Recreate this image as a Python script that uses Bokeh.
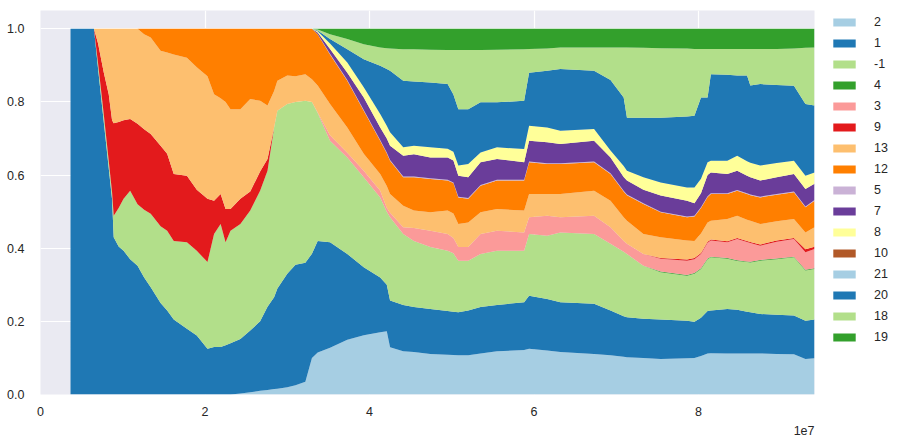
from bokeh.plotting import figure
from bokeh.models import (ColumnDataSource, Legend, LegendItem, FixedTicker,
                          CustomJSTickFormatter, PrintfTickFormatter, Range1d, Title)
from bokeh.embed import file_html
from bokeh.resources import INLINE

# ---------------- data (shares of each category) ----------------
x_vals = [3650000, 6500000, 7000000, 7700000, 8300000, 8700000, 8900000, 9500000, 10100000, 10900000,
          11800000, 12600000, 13400000, 14600000, 15400000, 16200000, 17800000, 19000000, 20300000, 21100000,
          21900000, 22500000, 23100000, 24300000, 25500000, 26700000, 27600000, 28400000, 28800000, 30000000,
          31000000, 32200000, 33000000, 33700000, 35200000, 37300000, 39300000, 41300000, 42100000, 42500000,
          44100000, 45400000, 47400000, 49500000, 50200000, 50800000, 52000000, 53500000, 55500000, 58800000,
          59400000, 61600000, 63200000, 67300000, 69300000, 70900000, 71300000, 73300000, 75400000, 78600000,
          79500000, 80300000, 81100000, 81500000, 83500000, 84700000, 85900000, 86300000, 87500000, 89500000,
          91600000, 93000000, 94100000]

labels = ["2", "1", "-1", "4", "3", "9", "13", "12", "5", "7", "8", "10", "21", "20", "18", "19"]
colors = ["#a6cee3", "#1f78b4", "#b2df8a", "#33a02c", "#fb9a99", "#e31a1c", "#fdbf6f", "#ff7f00",
          "#cab2d6", "#6a3d9a", "#ffff99", "#b15928", "#a6cee3", "#1f78b4", "#b2df8a", "#33a02c"]

s_2 = [0]*23 + [.003, .006, .01, .012, .015, .016, .02, .025, .035, .10, .115, .128, .15, .162, .17, .173,
                .129, .118, .116, .111, .109, .108, .107, .107, .112, .118, .122, .125, .12, .116, .111,
                .107, .103, .102, .10, .097, .099, .10, .105, .112, .113, .112, .112, .112, .112, .112,
                .111, .11, .097, .099]
s_1 = [1.0, 1.0, .891, .744, .618, .534, .43, .405, .393, .37, .352, .32, .293, .25, .23, .205, .18, .161,
       .125, .13, .13, .135, .14, .149, .169, .19, .228, .251, .274, .31, .33, .325, .285, .305, .288,
       .234, .186, .15, .127, .128, .127, .123, .123, .119, .118, .118, .123, .127, .127, .13, .145,
       .141, .136, .137, .123, .111, .109, .107, .108, .103, .099, .105, .116, .117, .122, .12, .114,
       .113, .108, .107, .106, .105, .106]
s_m1 = [0, 0, .014, .02, .02, .019, .059, .105, .142, .187, .168, .185, .201, .21, .218, .215, .236, .232,
        .237, .309, .336, .281, .308, .314, .328, .357, .372, .464, .486, .464, .445, .443, .415, .35,
        .278, .264, .246, .219, .20, .228, .194, .181, .169, .165, .16, .141, .136, .145, .148, .141,
        .169, .173, .191, .191, .182, .176, .173, .145, .129, .123, .131, .133, .142, .145, .137, .133,
        .136, .136, .146, .152, .159, .137, .138]
s_4 = [0]*58 + [.002]*15
s_3 = [0]*33 + [.001, .015, .013, .018, .018, .01, .012, .018, .035, .045, .046, .042, .037, .037, .055,
                .055, .05, .046, .055, .042, .05, .045, .03, .028, .032, .035, .039, .038, .039, .043,
                .044, .043, .058, .053, .051, .039, .046, .048, .048, .053]
s_9 = [0, 0, .055, .116, .182, .197, .253, .235, .215, .196, .22, .22, .218, .22, .21, .183, .182, .167,
       .173, .091, .082, .091, .059, .069, .052, .053, .032] + [0]*31 + \
      [.002, .003, .003, .003, .003, .003, .003, .003, .003, .003, .003, .003, .003, .008, .006]
s_13 = [0, 0, .04, .12, .18, .25, .258, .255, .25, .247, .26, .26, .264, .26, .277, .327, .323, .335,
        .335, .291, .262, .293, .273, .245, .253, .193, .146, .10, .082, .078, .07, .073, .062, .074,
        .085, .069, .046, .046, .06, .051, .059, .048, .05, .064, .067, .063, .067, .059, .059, .06,
        .063, .059, .063, .068, .073, .065, .063, .055, .057, .052, .047, .053, .052, .051, .061,
        .061, .058, .058, .056, .053, .052, .046, .053]
s_12 = [0]*11 + [.015, .024, .06, .065, .07, .079, .105, .13, .179, .19, .20, .22, .22, .192, .197, .21,
                 .17, .142, .128, .13, .124, .138, .14, .136, .128, .118, .091, .09, .091, .078, .091,
                 .091, .082, .083, .073, .065, .073, .078, .082, .087, .082, .082, .078, .073, .07,
                 .07, .082, .068, .064, .067, .07, .07, .073, .068, .068, .07, .07, .073, .072, .073,
                 .069, .073]
s_5 = [0]*33 + [.001] + [.002]*39
s_7 = [0]*33 + [.004, .013, .02, .034, .034, .038, .039, .057, .061, .057, .061, .06, .057, .057, .062,
                .057, .048, .057, .058, .053, .057, .043, .038, .038, .037, .044, .043, .034, .038, .058,
                .057, .053, .053, .048, .047, .044, .046, .048, .048, .044]
s_8 = [0]*33 + [.003, .015, .028, .028, .037, .035, .037, .023, .023, .028, .024, .024, .028, .036, .027,
                .032, .036, .041, .04, .036, .032, .019, .03, .027, .034, .036, .036, .043, .04, .035,
                .032, .036, .041, .04, .04, .041, .039, .036, .036, .031]
s_10 = [0]*73
s_21 = [0]*73
s_20 = [0]*33 + [.002, .012, .036, .077, .132, .155, .168, .182, .176, .177, .177, .156, .154, .15, .137,
                 .123, .132, .145, .155, .169, .159, .193, .187, .145, .163, .177, .194, .196, .222, .177,
                 .237, .235, .219, .234, .211, .223, .213, .205, .196, .183]
s_18 = [0]*33 + [.003, .013, .028, .041, .05, .057, .061, .086, .088, .09, .093, .122, .162, .162, .143,
                 .144, .141, .065, .061, .059, .064, .089, .137, .192, .191, .19, .186, .183, .133, .133,
                 .069, .071, .073, .073, .10, .096, .099, .102, .154, .159]
s_19 = [0]*33 + [.002, .015, .028, .042, .051, .053, .054, .056, .056, .057, .058, .058, .058, .058, .058,
                 .057, .056, .055, .054, .051, .051, .051, .051, .051, .052, .053, .054, .055, .055, .055,
                 .055, .055, .055, .055, .055, .055, .055, .054, .052, .051]

series = [s_2, s_1, s_m1, s_4, s_3, s_9, s_13, s_12, s_5, s_7, s_8, s_10, s_21, s_20, s_18, s_19]
keys = ["c%d" % i for i in range(len(labels))]

data = {"x": x_vals}
for k, s in zip(keys, series):
    data[k] = s
source = ColumnDataSource(data)

FONT = "Liberation Sans"
TXT = "#262626"

p = figure(frame_width=774, frame_height=384, output_backend="svg", toolbar_location=None,
           x_range=Range1d(0, 94100000), y_range=Range1d(0, 1.05),
           min_border_left=40, min_border_top=10, min_border_bottom=10, min_border_right=10)
p.background_fill_color = "#eaeaf2"
p.border_fill_color = "white"
p.outline_line_color = None

renderers = p.varea_stack(stackers=keys, x="x", color=colors, source=source)

p.xaxis.ticker = FixedTicker(ticks=[0, 20000000, 40000000, 60000000, 80000000])
p.xaxis.formatter = CustomJSTickFormatter(code="return (tick / 1e7).toFixed(0);")
p.yaxis.ticker = FixedTicker(ticks=[0, 0.2, 0.4, 0.6, 0.8, 1.0])
p.yaxis.formatter = PrintfTickFormatter(format="%.1f")
for ax in (p.xaxis, p.yaxis):
    ax.axis_line_color = None
    ax.major_tick_line_color = None
    ax.minor_tick_line_color = None
    ax.major_label_text_font = FONT
    ax.major_label_text_font_size = "12.5px"
    ax.major_label_text_color = TXT
p.xaxis.major_label_standoff = 6
p.yaxis.major_label_standoff = 10
p.grid.grid_line_color = "white"
p.grid.grid_line_width = 1.2
p.xgrid.ticker = FixedTicker(ticks=[0, 20000000, 40000000, 60000000, 80000000])
p.ygrid.ticker = FixedTicker(ticks=[0, 0.2, 0.4, 0.6, 0.8, 1.0])

p.add_layout(Title(text="1e7", align="right", text_font=FONT, text_font_size="12.5px",
                   text_font_style="normal", text_color=TXT, offset=0), "below")

items = [LegendItem(label=lab, renderers=[r]) for lab, r in zip(labels, renderers)]
legend = Legend(items=items, location=(16, 48), orientation="vertical",
                border_line_color=None, background_fill_alpha=0,
                label_text_font=FONT, label_text_font_size="12.5px", label_text_color=TXT,
                glyph_width=28, glyph_height=10, label_height=18, label_standoff=16,
                spacing=3, padding=0, margin=0)
p.add_layout(legend, "right")

open("out.html", "w").write(file_html(p, INLINE))
